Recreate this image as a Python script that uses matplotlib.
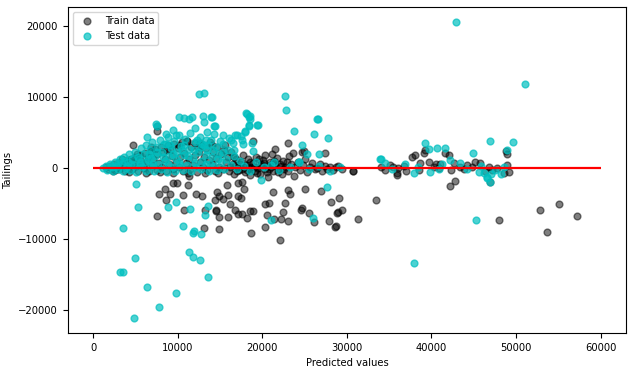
import matplotlib
matplotlib.use("Agg")
import matplotlib.pyplot as plt
import numpy as np

# residuals: (predicted value, residual)
train_wedge = [
    (1500, 100), (1800, -200), (2000, 300), (2200, 50), (2500, 500), (2600, -300), (2800, 200),
    (3000, 700), (3100, -100), (3300, 400), (3500, 900), (3600, 100), (3800, -400), (4000, 600),
    (4100, 1100), (4300, 250), (4500, 1300), (4600, -200), (4800, 800), (5000, 1500), (5100, 300),
    (5300, -500), (5500, 1100), (5600, 1800), (5800, 500), (6000, 0), (6100, 2100), (6300, 900),
    (6500, 1500), (6600, -400), (6800, 2400), (7000, 300), (7100, 1200), (7300, 2700), (7500, -300),
    (7600, 1900), (7800, 700), (8000, 3000), (8100, 100), (8300, 2200), (8500, 1300), (8600, -500),
    (8800, 3200), (9000, 600), (9100, 2500), (9300, 1700), (9500, -200), (9600, 3400), (9800, 900),
    (10000, 2800), (10100, 200), (10300, 1500), (10500, 3600), (10600, -400), (10800, 2100),
    (11000, 700), (11100, 3800), (11300, 1200), (11500, -100), (11600, 2900), (11800, 400),
    (12000, 3500), (12100, 1800), (12300, -600), (12500, 2400), (12600, 900), (12800, 3300),
    (13000, 100), (13100, 1600), (13300, 2800), (13500, -300), (13700, 1100), (13800, 3700),
    (14000, 500), (14200, 2200), (14400, -500), (14500, 1400), (14700, 3000), (14900, 200),
    (15100, 1900), (15300, -200), (15500, 2600), (15700, 800), (15900, 1500), (16100, -400),
    (16300, 2300), (4770, 3270), (7570, 5870), (7610, 5220), (11080, 3770), (12660, 3510),
    (2300, -500), (3400, 1300), (4200, -600), (5200, 2000), (6200, -700), (6900, 2900),
    (7900, -600), (8700, 2600), (9400, -700), (10200, 3200), (11200, -700), (12400, 2900),
    (13200, -700), (14100, 3300), (14800, -700), (15600, 3200),
]
train_band = [
    (16500, 500), (16700, -800), (16900, 1200), (17100, 100), (17300, -300), (17500, 900),
    (17700, 1800), (17900, -600), (18100, 400), (18300, 1300), (18500, -1000), (18700, 200),
    (18900, 700), (19100, -400), (19300, 1600), (19500, 0), (19700, -900), (19900, 600),
    (20100, 1100), (20300, -200), (20500, 300), (20700, -1300), (20900, 800), (21100, 2000),
    (21300, -500), (21500, 400), (21700, 1400), (21900, -100), (22100, 600), (22300, -800),
    (22500, 1000), (22700, 200), (23000, -400), (23200, 1700), (23400, 500), (23700, -1100),
    (23900, 100), (24200, 900), (24500, -300), (24800, 400), (25100, 1200), (25300, -600),
    (25600, 200), (25900, 700), (26200, -200), (26500, 0), (26800, 500), (27100, -400),
    (27400, 300), (27700, -100), (28000, 200), (28300, -300), (28700, 100), (29000, 300),
    (29400, -200), (30700, -500), (18960, 3770), (20350, 1850), (21450, 2700), (23070, 3510),
    (23620, 2090), (24880, 2420), (27450, 2090), (24690, 2180),
    (16200, 200), (16600, 1600), (17000, -500), (17400, 600), (17800, 200), (18200, -300),
    (18600, 900), (19000, 100), (19400, -700), (19800, 300), (20200, 700), (20600, -600),
    (21000, 100), (21400, 1000), (21800, -600), (22200, 300), (22600, -200), (18400, 0),
    (19600, 1200), (20800, -100), (17600, -200), (16800, 300), (21200, 500), (22900, 900),
]
train_right = [
    (34030, 190), (35130, 430), (35930, -750), (36710, 280), (37700, 1610), (38090, 1850),
    (38680, 670), (39160, 2090), (39280, 2560), (39670, 900), (40260, 190), (40850, -50),
    (41640, 2090), (42030, 1850), (42620, 670), (43420, 190), (44210, 430), (45190, 900),
    (45780, 670), (46760, 190), (47170, -280), (47760, -50), (48540, -750), (48940, 430),
    (49130, -530), (42150, -2560), (42830, -1800), (46970, -1950), (48860, 2460), (48900, 1990),
    (36000, 0), (37000, -400), (38500, -300), (41000, 500), (43800, -200), (44800, 100),
    (34500, -300), (35500, 200), (40500, 600), (42300, -300), (46300, -500), (35930, -1000),
]
train_low = [
    (11390, -1140), (11270, -2460), (9500, -2090), (9900, -2090), (8440, -2910), (7810, -3700),
    (9110, -3700), (8600, -4480), (10570, -3840), (7530, -6730), (10800, -5870), (12190, -3700),
    (12860, -3980), (14630, -3410), (14430, -4550), (13250, -5870), (14550, -5970), (13050, -8440),
    (14830, -8580), (14940, -3980), (15410, -4450), (15890, -3800), (15770, -2460), (14830, -6870),
    (14470, -6020), (15890, -6970),
    (16240, -5020), (16720, -5870), (17070, -6540), (17660, -6440), (18250, -7010), (18570, -6070),
    (18960, -6070), (18690, -9140), (17070, -2180), (17660, -1950), (17780, -3030), (17070, -3940),
    (17540, -4310), (20270, -5120), (20820, -4930), (20580, -6590), (20270, -8290), (21330, -7150),
    (21210, -3460), (22160, -7150), (22390, -6160), (22630, -4880), (22980, -3170), (23220, -3700),
    (22980, -7440), (22040, -10140), (24520, -5870), (24640, -5590), (25470, -6300), (26060, -7580),
    (25000, -3030), (26890, -3310), (27840, -7440), (28070, -4740), (28710, -8200), (28830, -6300),
    (29020, -4310), (28900, -6260), (29370, -5870), (28630, -8400), (31270, -7150), (33400, -4590),
    (47950, -7300), (52800, -5870), (53630, -9000), (55050, -5160), (57180, -6730), (30680, -470),
]
test_wedge = [
    (1200, 0), (1500, 300), (1700, -300), (2000, 600), (2200, 100), (2400, -400), (2600, 900),
    (2800, 300), (3000, -200), (3200, 1200), (3400, 500), (3500, -500), (3700, 1500), (3900, 0),
    (4100, 800), (4300, 1900), (4400, -300), (4600, 1200), (4800, 400), (5000, 2300), (5100, -600),
    (5300, 1600), (5500, 700), (5700, 2800), (5800, 100), (6000, 1900), (6200, -400), (6300, 3200),
    (6500, 1100), (6700, 2500), (6800, 300), (7000, 3600), (7200, -500), (7300, 1700), (7500, 2900),
    (7700, 600), (7900, 4000), (8000, -200), (8200, 2200), (8400, 3400), (8500, 1000), (8700, -600),
    (8900, 4300), (9000, 1700), (9200, 2800), (9400, 200), (9600, 3800), (9700, -400), (9900, 2300),
    (10100, 4600), (10200, 900), (10400, 3100), (10600, -300), (10700, 1800), (10900, 4100),
    (11100, 400), (11300, 2700), (11500, 4900), (11600, -500), (11800, 1400), (12000, 3600),
    (12200, 200), (12400, 2200), (12600, 4300), (12700, -200), (12900, 1000), (13100, 3200),
    (13300, 500), (13500, 2500), (13700, -400), (13900, 3900), (14100, 1500), (14300, 300),
    (14500, 2900), (14700, -300), (14900, 2000), (15100, 800), (15300, 3400), (15500, -100),
    (15700, 1300), (16000, 2600), (16300, 400), (16600, 1700), (17000, -200), (17400, 1000),
    (17800, 300), (18600, -500), (19300, 900), (20200, 100), (21000, 400), (22000, -300),
    (23300, 200), (24300, 800), (25500, -200), (26700, 300), (28000, -400), (29200, 100),
    (2100, 300), (2900, 700), (3600, 1000), (4500, 600), (5400, 1200), (6100, 800), (6900, 1400),
    (7600, 2200), (8300, 1500), (9100, 3300), (9800, 1200), (10500, 2600), (11200, 1700),
    (11900, 2500), (12700, 3000), (13400, 1800), (14200, 2600), (14800, 1200), (15400, 2200),
    (4000, 300), (5600, 400), (7100, 600), (8800, 500), (10300, 400), (12100, 700), (13800, 600),
    (6600, 1900), (9400, 2000), (10800, 3200), (12300, 4000), (13600, 3300), (15000, 3800),
]
test_high = [
    (12460, 10480), (13050, 10620), (22630, 10190), (22800, 8200), (26500, 6970), (23700, 5220),
    (26060, 4790), (27800, 4170), (24690, 3170), (25320, 1990), (26650, 1950), (18060, 7720),
    (18370, 7250), (18570, 6970), (19400, 6110), (18370, 5930), (17900, 5080), (17430, 4550),
    (16760, 4590), (16050, 4220), (15410, 4590), (16560, 3510), (17710, 3410), (18770, 3550),
    (18850, 2420), (7490, 6260), (7530, 5880), (10210, 7210), (10770, 7010), (11680, 7250),
    (12980, 7390), (13960, 7210), (11390, 6930), (12030, 5650), (13130, 6540), (13490, 5020),
    (14310, 5870), (13370, 3980), (12860, 3410), (6390, 4410), (8640, 4830), (9500, 5400),
    (9850, 4690), (8640, 3410), (16290, 3980), (17000, 4690), (17590, 3980), (17980, 5160),
    (18370, 6000), (18250, 7620), (18490, 7290), (19480, 6110), (16600, 2560), (14430, 5870),
    (14350, 4830), (14040, 7210), (26540, 6930), (24290, 900), (21330, 900),
]
test_low = [
    (19870, -1750), (5120, -2320), (27650, -2660), (5360, -5550), (3590, -8440), (9850, -4740),
    (8910, -5550), (11510, -5740), (13570, -5310), (13170, -6640), (10680, -8250), (11870, -8860),
    (11750, -9140), (12810, -9390), (20980, -7390), (25940, -7010), (5000, -12700), (3190, -14690),
    (3590, -14690), (11390, -11800), (11750, -12560), (12690, -12990), (13640, -15400),
    (6420, -16820), (9850, -17680), (7810, -19670), (4890, -21230), (37890, -13410), (45310, -7300),
]
test_right = [
    (42950, 20620), (51030, 11900), (39190, 3510), (39670, 2700), (40650, 2800), (41560, 2800),
    (44870, 2090), (46880, 3800), (49600, 3650), (48900, 2560), (33950, 1280), (46170, -750),
    (46570, -1460), (46880, -1950), (34540, 670), (36910, 530), (37890, -750), (39870, -530),
    (41250, 530), (42230, 1140), (43420, 670), (45580, -530), (46570, -1240), (47560, -280),
    (48540, 180), (34030, 1280), (35300, -100), (38400, 200), (40900, -200), (44200, -100),
    (45900, 300), (47000, -800), (48200, -900),
]

train = np.array(train_wedge + train_band + train_right + train_low)
test = np.array(test_wedge + test_high + test_low + test_right)

plt.rcParams['font.size'] = 7.2
fig = plt.figure(figsize=(6.33, 3.71), dpi=100)
ax = fig.add_axes([0.107, 0.102, 0.882, 0.879])
ax.scatter(train[:, 0], train[:, 1], c='black', alpha=0.5, s=24, label='Train data')
ax.scatter(test[:, 0], test[:, 1], c='c', alpha=0.7, s=24, label='Test data')
ax.hlines(y=0, xmin=0, xmax=60000, color='red', lw=1.6)
ax.set_xlabel('Predicted values')
ax.set_ylabel('Tailings')
ax.legend(loc='upper left')
fig.savefig('out.png', dpi=100)
